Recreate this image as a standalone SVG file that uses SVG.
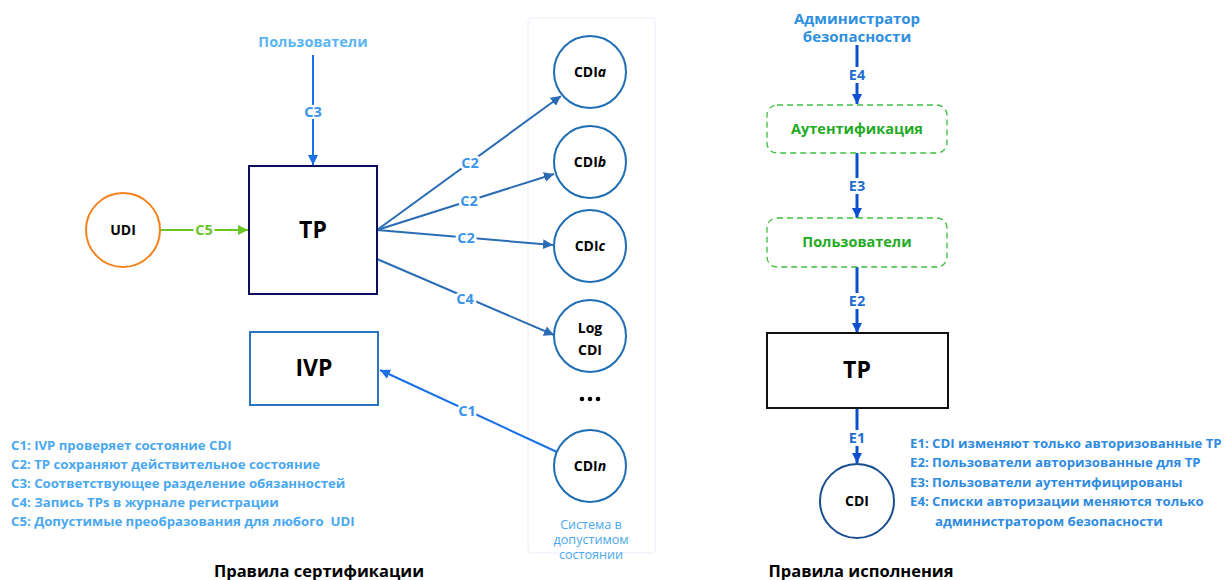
<svg xmlns="http://www.w3.org/2000/svg" width="1225" height="580" viewBox="0 0 1225 580">
<style>
text{font-family:"Open Sans","Noto Sans","Liberation Sans",sans-serif;font-weight:bold}
.node{font-size:14px;fill:#000;text-anchor:middle}
.big{font-size:23px;fill:#000;text-anchor:middle}
.lbl{font-size:14.5px;fill:#3a94ea;text-anchor:middle;stroke:#fff;stroke-width:5px;paint-order:stroke}
.elbl{font-size:14.5px;fill:#1f6fd0;text-anchor:middle;stroke:#fff;stroke-width:6px;paint-order:stroke}
.leg{font-size:13.2px;fill:#4aa8f0}
.eleg{font-size:13.2px;fill:#2e8be0}
.title{font-size:16.5px;fill:#000;text-anchor:middle}
.sys{font-size:12.6px;fill:#4aa8f0;text-anchor:middle;font-weight:normal}
.cdi{fill:#fff;stroke:#1f6db3;stroke-width:2}
.c2{stroke:#2a6db5;stroke-width:2;fill:none}
.c1{stroke:#1a70e6;stroke-width:2;fill:none}
.e{stroke:#0c4fd1;stroke-width:3;fill:none}
.gbox{fill:#fff;stroke:#3cbf3c;stroke-width:1.3;stroke-dasharray:6 4}
</style>
<defs>
<marker id="ab" viewBox="0 0 10 10" refX="10" refY="5" markerWidth="5" markerHeight="5" orient="auto" markerUnits="strokeWidth"><path d="M0,0L10,5L0,10z" fill="#2a6db5"/></marker>
<marker id="ab1" viewBox="0 0 10 10" refX="10" refY="5" markerWidth="5" markerHeight="5" orient="auto" markerUnits="strokeWidth"><path d="M0,0L10,5L0,10z" fill="#1a70e6"/></marker>
<marker id="ag" viewBox="0 0 10 10" refX="10" refY="5" markerWidth="5" markerHeight="5" orient="auto" markerUnits="strokeWidth"><path d="M0,0L10,5L0,10z" fill="#6ac42a"/></marker>
<marker id="ae" viewBox="0 0 10 10" refX="10" refY="5" markerWidth="3.5" markerHeight="3.5" orient="auto" markerUnits="strokeWidth"><path d="M0,0L10,5L0,10z" fill="#0c4fd1"/></marker>
</defs>

<rect id="system" x="528" y="18" width="127" height="535" rx="3" fill="none" stroke="#f0f5fb" stroke-width="1.5"/>

<g id="connectors">
<line x1="313" y1="55" x2="313" y2="165" class="c1" marker-end="url(#ab1)"/>
<line x1="160" y1="230" x2="248" y2="230" stroke="#6ac42a" stroke-width="2" marker-end="url(#ag)"/>
<line x1="377" y1="230" x2="561" y2="96" class="c2" marker-end="url(#ab)"/>
<line x1="377" y1="230" x2="554" y2="174" class="c2" marker-end="url(#ab)"/>
<line x1="377" y1="230" x2="553" y2="245" class="c2" marker-end="url(#ab)"/>
<line x1="377" y1="259" x2="554" y2="335" class="c2" marker-end="url(#ab)"/>
<line x1="557" y1="452" x2="380" y2="370" class="c1" marker-end="url(#ab1)"/>
<line x1="857" y1="45" x2="857" y2="104" class="e" marker-end="url(#ae)"/>
<line x1="857" y1="153" x2="857" y2="218" class="e" marker-end="url(#ae)"/>
<line x1="857" y1="267" x2="857" y2="333" class="e" marker-end="url(#ae)"/>
<line x1="857" y1="408" x2="857" y2="463" class="e" marker-end="url(#ae)"/>
<text x="313" y="117" class="lbl">C3</text>
<text x="204" y="235" class="lbl" style="fill:#6ac42a">C5</text>
<text x="470" y="168" class="lbl">C2</text>
<text x="469" y="206" class="lbl">C2</text>
<text x="466" y="243" class="lbl">C2</text>
<text x="465" y="304" class="lbl">C4</text>
<text x="467" y="416" class="lbl">C1</text>
<text x="857" y="80" class="elbl">E4</text>
<text x="857" y="191" class="elbl">E3</text>
<text x="857" y="306" class="elbl">E2</text>
<text x="857" y="443" class="elbl">E1</text>
</g>

<g id="users-top"><text x="313" y="47" style="font-size:14.5px;fill:#5ab4f5;text-anchor:middle">Пользователи</text></g>

<g id="tp"><rect x="249" y="166" width="128" height="128" fill="#fff" stroke="#0d0d5c" stroke-width="2"/><text x="313" y="238" class="big">TP</text></g>
<g id="udi"><circle cx="123" cy="230" r="37" fill="#fff" stroke="#f5821f" stroke-width="2"/><text x="123" y="235" class="node">UDI</text></g>
<g id="ivp"><rect x="250" y="332" width="128" height="73" fill="#fff" stroke="#2a75c0" stroke-width="2"/><text x="314" y="376" class="big">IVP</text></g>

<g id="cdia"><circle cx="590" cy="72" r="36" class="cdi"/><text x="590" y="77" class="node">CDI<tspan font-style="italic">a</tspan></text></g>
<g id="cdib"><circle cx="590" cy="162" r="36" class="cdi"/><text x="590" y="167" class="node">CDI<tspan font-style="italic">b</tspan></text></g>
<g id="cdic"><circle cx="590" cy="246" r="36" class="cdi"/><text x="590" y="251" class="node">CDI<tspan font-style="italic">c</tspan></text></g>
<g id="logcdi"><circle cx="590" cy="336" r="36" class="cdi"/><text x="590" y="333" class="node">Log</text><text x="590" y="355" class="node">CDI</text></g>
<g id="dots"><circle cx="582" cy="399" r="2.3" fill="#000"/><circle cx="590" cy="399" r="2.3" fill="#000"/><circle cx="598" cy="399" r="2.3" fill="#000"/></g>
<g id="cdin"><circle cx="590" cy="466" r="36" class="cdi"/><text x="590" y="471" class="node">CDI<tspan font-style="italic">n</tspan></text></g>

<g id="system-label">
<text x="591" y="529" class="sys">Система в</text>
<text x="591" y="544" class="sys">допустимом</text>
<text x="591" y="559" class="sys">состоянии</text>
</g>

<g id="legend-c">
<text x="11" y="450" class="leg">C1: IVP проверяет состояние CDI</text>
<text x="11" y="469" class="leg">C2: TP сохраняют действительное состояние</text>
<text x="11" y="488" class="leg">C3: Соответствующее разделение обязанностей</text>
<text x="11" y="507" class="leg">C4: Запись TPs в журнале регистрации</text>
<text x="11" y="526" class="leg" xml:space="preserve">C5: Допустимые преобразования для любого  UDI</text>
</g>
<g id="title-left"><text x="319" y="577" class="title">Правила сертификации</text></g>

<g id="admin">
<text x="857" y="24" style="font-size:15px;fill:#2e8fe0;text-anchor:middle">Администратор</text>
<text x="857" y="42" style="font-size:15px;fill:#2e8fe0;text-anchor:middle">безопасности</text>
</g>
<g id="auth"><rect x="767" y="105" width="180" height="48" rx="10" class="gbox"/><text x="857" y="134" style="font-size:14.5px;fill:#22aa22;text-anchor:middle">Аутентификация</text></g>
<g id="users"><rect x="767" y="218" width="180" height="49" rx="10" class="gbox"/><text x="857" y="247" style="font-size:14.5px;fill:#22aa22;text-anchor:middle">Пользователи</text></g>
<g id="tp2"><rect x="767" y="333" width="181" height="75" fill="#fff" stroke="#111" stroke-width="2"/><text x="857" y="378" class="big">TP</text></g>
<g id="cdi2"><circle cx="857" cy="501" r="37" fill="#fff" stroke="#1a4f8f" stroke-width="2"/><text x="857" y="506" class="node">CDI</text></g>

<g id="legend-e">
<text x="910" y="448" class="eleg">E1: CDI изменяют только авторизованные TP</text>
<text x="910" y="467" class="eleg">E2: Пользователи авторизованные для TP</text>
<text x="910" y="487" class="eleg">E3: Пользователи аутентифицированы</text>
<text x="910" y="506" class="eleg">E4: Списки авторизации меняются только</text>
<text x="935" y="526" class="eleg">администратором безопасности</text>
</g>
<g id="title-right"><text x="861" y="577" class="title">Правила исполнения</text></g>
</svg>
